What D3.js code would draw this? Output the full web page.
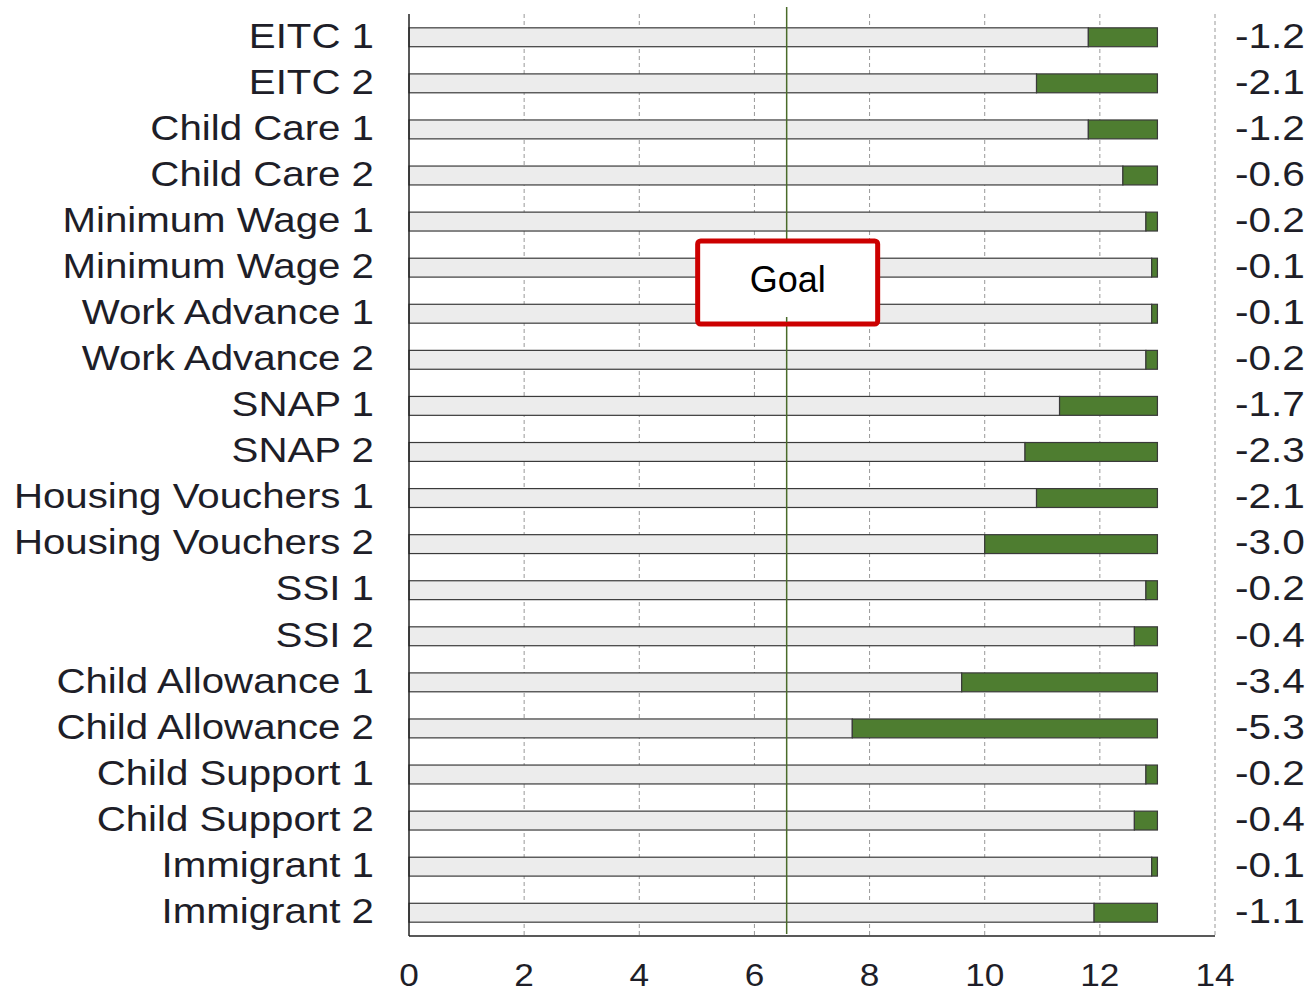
<!DOCTYPE html>
<html>
<head>
  <meta charset="utf-8" />
  <script src="https://cdn.jsdelivr.net/npm/d3@7"></script>
  <style>
  body { margin: 0; background: #fff; }
  text { font-family: "Liberation Sans", Arial, sans-serif; fill: #1e1e28; }
  .grid line { stroke: #999; stroke-dasharray: 4,3; }
  </style>
</head>
<body>
  <svg width="1311" height="994"></svg>
  <script>
  // programs, poverty baseline and reduction from each one
  var programs = ["EITC 1", "EITC 2", "Child Care 1", "Child Care 2", "Minimum Wage 1",
    "Minimum Wage 2", "Work Advance 1", "Work Advance 2", "SNAP 1", "SNAP 2",
    "Housing Vouchers 1", "Housing Vouchers 2", "SSI 1", "SSI 2", "Child Allowance 1",
    "Child Allowance 2", "Child Support 1", "Child Support 2", "Immigrant 1", "Immigrant 2"]
  var baseline = 13.0
  var reduction = [1.2, 2.1, 1.2, 0.6, 0.2, 0.1, 0.1, 0.2, 1.7, 2.3,
    2.1, 3.0, 0.2, 0.4, 3.4, 5.3, 0.2, 0.4, 0.1, 1.1]
  var goal = 6.56
  var xTicks = [0, 2, 4, 6, 8, 10, 12, 14]

  var svg = d3.select("svg")
  var x = d3.scaleLinear().domain([0, 14]).range([409, 1215])
  var y = d3.scaleBand().domain(programs).range([14, 936]).paddingInner(0.59).paddingOuter(0.3)

  // dashed grid
  svg.append("g").attr("class", "grid")
    .selectAll("line").data(xTicks.slice(1))
    .enter().append("line")
    .attr("x1", d => x(d)).attr("x2", d => x(d))
    .attr("y1", 14).attr("y2", 936)

  var rows = svg.append("g").selectAll("g").data(programs)
    .enter().append("g")

  rows.append("rect")
    .attr("x", x(0))
    .attr("y", d => y(d))
    .attr("width", (d, i) => x(baseline - reduction[i]) - x(0))
    .attr("height", y.bandwidth())
    .attr("fill", "#ececec").attr("stroke", "#3a3a3a").attr("stroke-width", 1.2)

  rows.append("rect")
    .attr("x", (d, i) => x(baseline - reduction[i]))
    .attr("y", d => y(d))
    .attr("width", (d, i) => x(baseline) - x(baseline - reduction[i]))
    .attr("height", y.bandwidth())
    .attr("fill", "#4e7d30").attr("stroke", "#3a3a3a").attr("stroke-width", 1.2)

  // labels are a bit wide in the original, so stretch horizontally
  rows.append("text")
    .attr("transform", d => "translate(374," + (y(d) + y.bandwidth() / 2 - 2) + ") scale(1.15,1)")
    .attr("dy", "0.35em").attr("text-anchor", "end")
    .style("font-size", "35px")
    .text(d => d)

  rows.append("text")
    .attr("transform", d => "translate(1235," + (y(d) + y.bandwidth() / 2 - 2) + ") scale(1.16,1)")
    .attr("dy", "0.35em")
    .style("font-size", "35px")
    .text((d, i) => "-" + reduction[i].toFixed(1))

  // axes
  svg.append("line").attr("x1", x(0)).attr("x2", x(0)).attr("y1", 14).attr("y2", 936)
    .attr("stroke", "#222").attr("stroke-width", 1.5)
  svg.append("line").attr("x1", x(0)).attr("x2", x(14)).attr("y1", 936).attr("y2", 936)
    .attr("stroke", "#222").attr("stroke-width", 1.5)

  svg.append("g").selectAll("text").data(xTicks)
    .enter().append("text")
    .attr("transform", d => "translate(" + x(d) + ",986) scale(1.1,1)")
    .attr("text-anchor", "middle")
    .style("font-size", "32px")
    .text(d => d)

  // goal line and label
  svg.append("line").attr("x1", x(goal)).attr("x2", x(goal)).attr("y1", 7).attr("y2", 934)
    .attr("stroke", "#4a6b2a").attr("stroke-width", 1.5)

  svg.append("rect")
    .attr("x", x(goal) - 89).attr("y", 241).attr("width", 180).attr("height", 83)
    .attr("rx", 3)
    .attr("fill", "#fff").attr("stroke", "#cc0000").attr("stroke-width", 5)
  svg.append("line").attr("x1", x(goal)).attr("x2", x(goal)).attr("y1", 317).attr("y2", 322)
    .attr("stroke", "#4a6b2a").attr("stroke-width", 1.5)
  svg.append("text")
    .attr("x", x(goal) + 1).attr("y", 292)
    .attr("text-anchor", "middle")
    .style("font-size", "36px").style("fill", "#000")
    .text("Goal")
  </script>
</body>
</html>
